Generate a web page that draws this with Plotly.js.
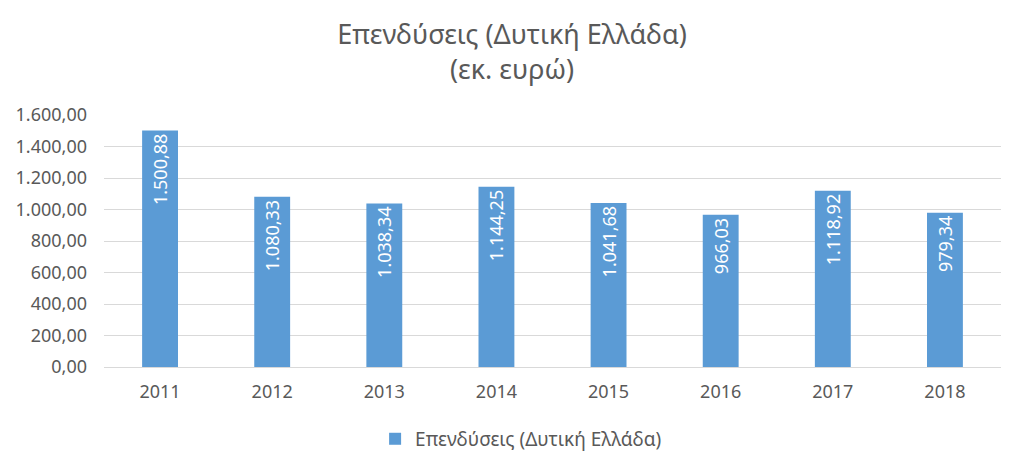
<!DOCTYPE html>
<html>
<head>
<meta charset="utf-8">
<script src="https://cdn.plot.ly/plotly-3.0.1.min.js"></script>
<style>html,body{margin:0;padding:0;background:#fff;}#chart{width:1024px;height:462px;}</style>
</head>
<body>
<div id="chart"></div>
<script>
const years = ['2011','2012','2013','2014','2015','2016','2017','2018'];
const investments = [1500.88, 1080.33, 1038.34, 1144.25, 1041.68, 966.03, 1118.92, 979.34];
const seriesName = 'Επενδύσεις (Δυτική Ελλάδα)';
const yTicks = [0, 200, 400, 600, 800, 1000, 1200, 1400, 1600];

const font = "'Noto Sans', 'DejaVu Sans', sans-serif";
const trace = {
  type: 'bar',
  x: years,
  y: investments,
  name: seriesName,
  marker: {color: '#5B9BD5'},
  texttemplate: '%{y:,.2f}',
  textposition: 'inside',
  insidetextanchor: 'end',
  textangle: -90,
  textfont: {color: '#ffffff', size: 18, family: font},
  hoverinfo: 'x+y'
};
const layout = {
  width: 1024, height: 462,
  separators: ',.',
  paper_bgcolor: '#ffffff', plot_bgcolor: '#ffffff',
  margin: {l: 104, r: 23, t: 115, b: 95, autoexpand: false},
  font: {family: font, color: '#595959'},
  title: {text: 'Επενδύσεις (Δυτική Ελλάδα)<br>(εκ. ευρώ)', font: {size: 27, color: '#595959', family: font}, x: 0.5, xanchor: 'center', y: 0.905, yanchor: 'top'},
  bargap: 0.68,
  xaxis: {type: 'category', showgrid: false, showline: true, linecolor: '#d9d9d9', linewidth: 1, ticks: '', ticklabelstandoff: 8, tickfont: {size: 18, color: '#595959'}},
  yaxis: {range: [0, 1600], tickvals: yTicks, tickformat: ',.2f', showgrid: true, gridcolor: '#d9d9d9', gridwidth: 1, zeroline: false, showline: false, ticks: '', ticklabelstandoff: 16, tickfont: {size: 18, color: '#595959'}},
  showlegend: true,
  legend: {orientation: 'h', x: 0.465, xanchor: 'center', y: -0.21, yanchor: 'top', font: {size: 19, color: '#595959'}, itemwidth: 30}
};
Plotly.newPlot('chart', [trace], layout, {displayModeBar: false, staticPlot: true});
</script>
</body>
</html>
